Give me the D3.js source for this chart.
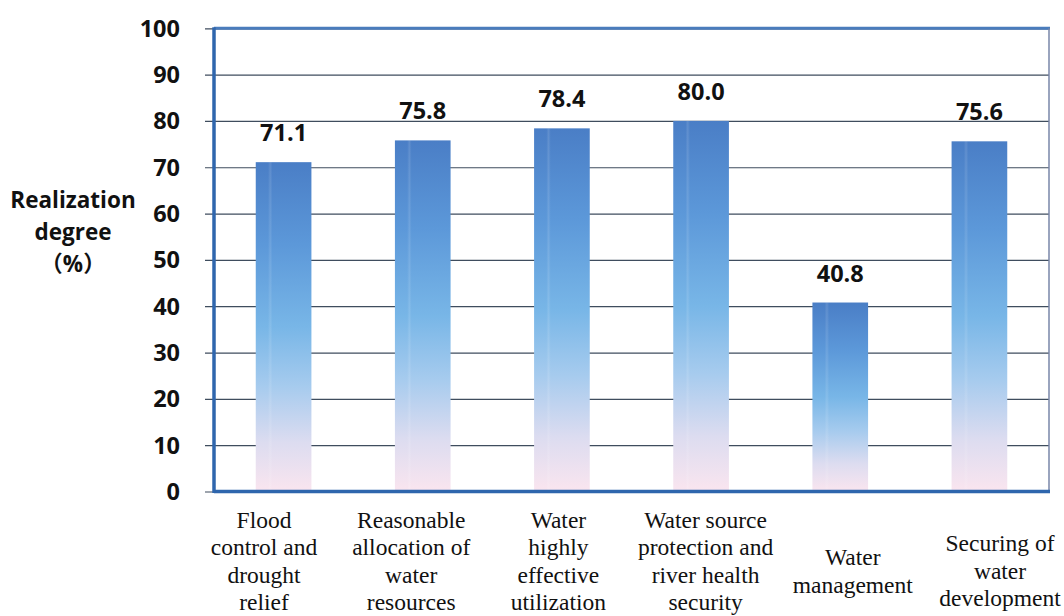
<!DOCTYPE html>
<html>
<head>
<meta charset="utf-8">
<script src="https://cdn.jsdelivr.net/npm/d3@7"></script>
<style>
  html, body { margin: 0; padding: 0; background: #fff; }
  svg { display: block; }
</style>
</head>
<body>
<svg id="chart" width="1064" height="616"></svg>
<script>
// ---- data ----
const categories = [
  "Flood control and drought relief",
  "Reasonable allocation of water resources",
  "Water highly effective utilization",
  "Water source protection and river health security",
  "Water management",
  "Securing of water development"
];
const categoryLines = [
  ["Flood", "control and", "drought", "relief"],
  ["Reasonable", "allocation of", "water", "resources"],
  ["Water", "highly", "effective", "utilization"],
  ["Water source", "protection and", "river health", "security"],
  ["Water", "management"],
  ["Securing of", "water", "development"]
];
const values = [71.1, 75.8, 78.4, 80.0, 40.8, 75.6];
const valueLabels = ["71.1", "75.8", "78.4", "80.0", "40.8", "75.6"];
const yTicks = [0, 10, 20, 30, 40, 50, 60, 70, 80, 90, 100];
const yTitleLines = ["Realization", "degree", "（%）"];

// ---- layout ----
const svg = d3.select("#chart");
const pLeft = 214, pRight = 1049, pTop = 28.3, pBottom = 491.5;

const x = d3.scaleBand().domain(categories).range([pLeft, pRight])
  .paddingInner(0.6).paddingOuter(0.3);
const xLab = d3.scalePoint().domain(categories).range([264, 1000]);
const y = d3.scaleLinear().domain([0, 100]).range([pBottom, pTop]);

// gradient
const defs = svg.append("defs");
const grad = defs.append("linearGradient").attr("id", "barGrad")
  .attr("x1", 0).attr("y1", 0).attr("x2", 0).attr("y2", 1);
[[0, "#4a7ec6"], [0.25, "#5c98d9"], [0.5, "#78b6e7"], [0.68, "#a6cbee"],
 [0.85, "#dcdcf0"], [1, "#fae5ef"]].forEach(([o, c]) =>
  grad.append("stop").attr("offset", o).attr("stop-color", c));

const hl = defs.append("linearGradient").attr("id", "hlGrad")
  .attr("x1", 0).attr("y1", 0).attr("x2", 1).attr("y2", 0);
[[0, 0], [0.22, 0], [0.26, 0.12], [0.3, 0], [1, 0]].forEach(([o, a]) =>
  hl.append("stop").attr("offset", o).attr("stop-color", "#ffffff").attr("stop-opacity", a));

// gridlines + ticks
const yAxis = d3.axisLeft(y).tickValues(yTicks).tickSize(pRight - pLeft + 9).tickFormat("");
const gAxis = svg.append("g").attr("transform", `translate(${pRight},0)`).call(yAxis);
gAxis.select(".domain").remove();
gAxis.selectAll(".tick line").attr("stroke", "#3f4d5e").attr("stroke-width", 1.2);

// tick labels
svg.append("g").selectAll("text").data(yTicks).join("text")
  .attr("x", 180).attr("y", d => y(d)).attr("dy", "0.36em")
  .attr("text-anchor", "end")
  .attr("font-family", "'Open Sans', sans-serif").attr("font-weight", 700)
  .attr("font-size", 23.5).attr("fill", "#111")
  .text(d => d);

// bars
const bars = svg.append("g");
bars.selectAll("rect.bar").data(values).join("rect").attr("class", "bar")
  .attr("x", (d, i) => x(categories[i])).attr("width", x.bandwidth())
  .attr("y", d => y(d)).attr("height", d => y(0) - y(d))
  .attr("fill", "url(#barGrad)");
bars.selectAll("rect.hl").data(values).join("rect").attr("class", "hl")
  .attr("x", (d, i) => x(categories[i])).attr("width", x.bandwidth())
  .attr("y", d => y(d)).attr("height", d => y(0) - y(d))
  .attr("fill", "url(#hlGrad)");

// frame
svg.append("line").attr("x1", pLeft).attr("x2", pRight + 1).attr("y1", pTop).attr("y2", pTop)
  .attr("stroke", "#4a7cbc").attr("stroke-width", 3);
svg.append("line").attr("x1", pRight).attr("x2", pRight).attr("y1", pTop).attr("y2", pBottom)
  .attr("stroke", "#7886a8").attr("stroke-width", 1.5);
svg.append("line").attr("x1", pLeft).attr("x2", pRight + 1).attr("y1", pBottom).attr("y2", pBottom)
  .attr("stroke", "#2f66ad").attr("stroke-width", 3.5);
svg.append("line").attr("x1", pLeft).attr("x2", pLeft).attr("y1", pTop - 1).attr("y2", pBottom + 1.5)
  .attr("stroke", "#2f66ad").attr("stroke-width", 3.5);

// value labels
svg.append("g").selectAll("text").data(values).join("text")
  .attr("x", (d, i) => x(categories[i]) + x.bandwidth() / 2)
  .attr("y", d => y(d) - 21)
  .attr("text-anchor", "middle")
  .attr("font-family", "'Open Sans', sans-serif").attr("font-weight", 700)
  .attr("font-size", 23.5).attr("fill", "#111")
  .text((d, i) => valueLabels[i]);

// category labels
const lh = 27.5;
const cat = svg.append("g").selectAll("text").data(categories).join("text")
  .attr("text-anchor", "middle")
  .attr("font-family", "'Liberation Serif', 'Times New Roman', serif")
  .attr("font-size", 23.5).attr("fill", "#111");
cat.each(function (d, i) {
  const lines = categoryLines[i];
  const n = lines.length;
  const center = n === 4 ? 561 : 571;
  const y0 = center - (n - 1) / 2 * lh;
  d3.select(this).selectAll("tspan").data(lines).join("tspan")
    .attr("x", xLab(d)).attr("y", (l, j) => y0 + j * lh).attr("dy", "0.33em")
    .text(l => l);
});

// y title
svg.append("g").selectAll("text").data(yTitleLines).join("text")
  .attr("x", 73).attr("y", (d, i) => 200 + i * 32).attr("dy", "0.36em")
  .attr("text-anchor", "middle")
  .attr("font-family", "'Open Sans', 'Noto Sans CJK SC', sans-serif").attr("font-weight", 700)
  .attr("font-size", 22.5).attr("fill", "#111")
  .text(d => d);
</script>
</body>
</html>
